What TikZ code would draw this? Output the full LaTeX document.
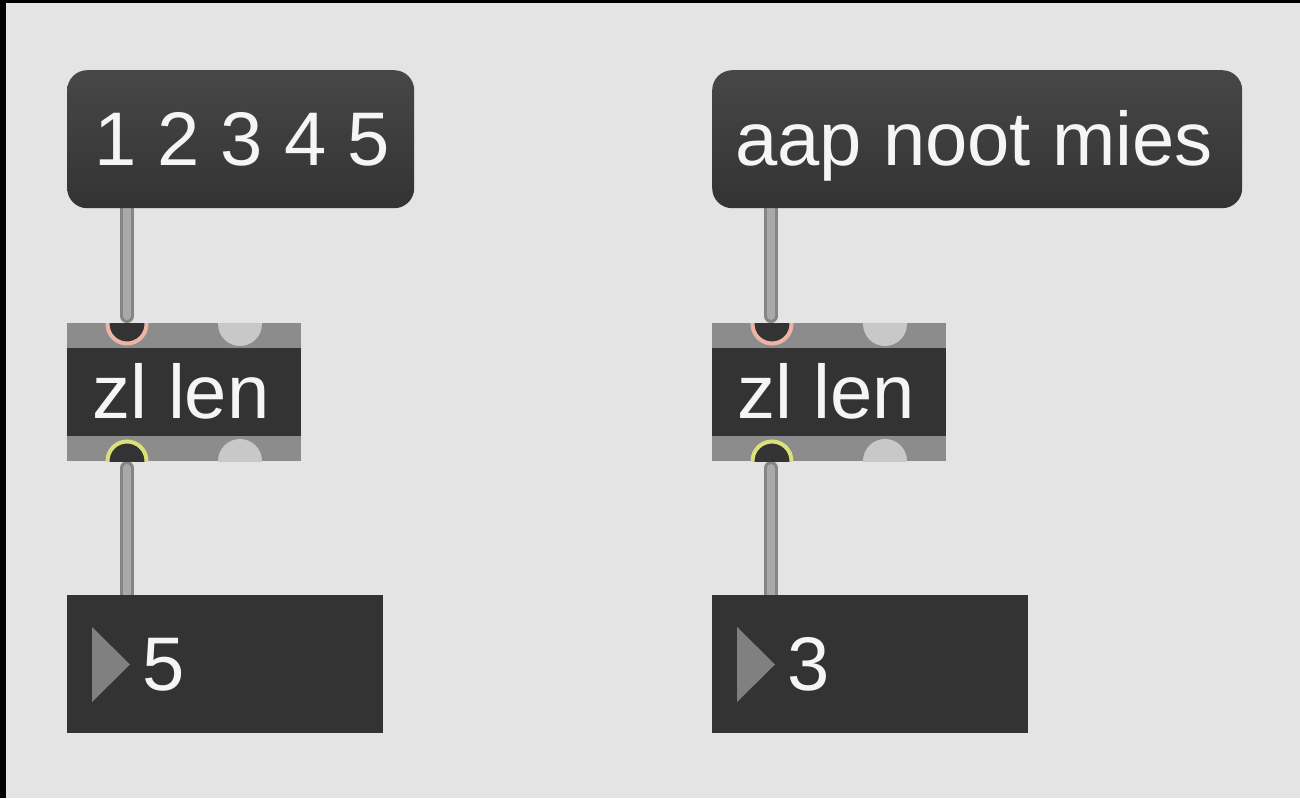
\documentclass[tikz,border=0pt]{standalone}
\usepackage{fontspec}
\setmainfont{Liberation Sans}
\definecolor{bgc}{HTML}{E4E4E4}
\definecolor{boxc}{HTML}{333333}
\definecolor{msgtop}{HTML}{474747}
\definecolor{bandc}{HTML}{8C8C8C}
\definecolor{portc}{HTML}{C8C8C8}
\definecolor{inc}{HTML}{F0B4A4}
\definecolor{outc}{HTML}{DCE07A}
\definecolor{cordout}{HTML}{858585}
\definecolor{cordin}{HTML}{A9A9A9}
\definecolor{tric}{HTML}{808080}
\tikzset{
  msgbox/.style={rectangle, rounded corners=20pt, top color=msgtop, bottom color=boxc, draw=none, anchor=north west, inner sep=0pt},
  numbox/.style={rectangle, fill=boxc, draw=none, anchor=north west, inner sep=0pt, minimum width=316pt, minimum height=138pt},
  objband/.style={rectangle, fill=bandc, draw=none, anchor=north west, inner sep=0pt, minimum width=234pt, minimum height=138pt},
  objbody/.style={rectangle, fill=boxc, draw=none, anchor=north west, inner sep=0pt, minimum width=234pt, minimum height=88pt},
  lbl/.style={anchor=base west, inner sep=0pt, text=white!96!black, font=\fontsize{76}{90}\selectfont},
  cordo/.style={draw=cordout, line width=14pt, line cap=round},
  cordi/.style={draw=cordin, line width=8pt, line cap=round},
}
\begin{document}
\begin{tikzpicture}[x=1pt,y=-1pt]
\useasboundingbox (0,0) rectangle (1300,798);
\fill[black] (0,0) rectangle (1300,798);
\fill[bgc] (6,3) rectangle (1300,798);

% cord coordinates
\coordinate (c1a) at (127,200);
\coordinate (c1b) at (127,316);
\coordinate (c2a) at (127,468);
\coordinate (c2b) at (127,600);
\coordinate (c3a) at (771,200);
\coordinate (c3b) at (771,316);
\coordinate (c4a) at (771,468);
\coordinate (c4b) at (771,600);
\foreach \a/\b in {c1a/c1b,c2a/c2b,c3a/c3b,c4a/c4b}{
  \draw[cordo] (\a) -- (\b);
  \draw[cordi] (\a) -- (\b);
}

% message boxes
\node[msgbox, minimum width=347pt, minimum height=138pt] (msg1) at (67,70) {};
\node[lbl] (msg1t) at (94,165) {1 2 3 4 5};
\node[msgbox, minimum width=530pt, minimum height=138pt] (msg2) at (712,70) {};
\node[lbl] (msg2t) at (735,165) {aap noot mies};

% zl len objects
\foreach \x/\n in {67/1,712/2}{
  \node[objband] (zb\n) at (\x,323) {};
  \node[objbody] (zc\n) at (\x,348) {};
  \begin{scope}
    \clip (\x,323) rectangle ++(234,138);
    \fill[boxc, draw=inc, line width=4pt] (\x+60,324) circle (19.5);
    \fill[portc] (\x+173,324) circle (22);
    \fill[boxc, draw=outc, line width=4pt] (\x+60,461) circle (19.5);
    \fill[portc] (\x+173,461) circle (22);
  \end{scope}
}
\node[lbl] (z1t) at (92,418) {zl len};
\node[lbl] (z2t) at (737,418) {zl len};

% number boxes
\node[numbox] (num1) at (67,595) {};
\fill[tric] (92,627) -- (92,702) -- (130,664.5) -- cycle;
\node[lbl] (num1t) at (142,690) {5};
\node[numbox] (num2) at (712,595) {};
\fill[tric] (737,627) -- (737,702) -- (775,664.5) -- cycle;
\node[lbl] (num2t) at (787,690) {3};
\end{tikzpicture}
\end{document}
